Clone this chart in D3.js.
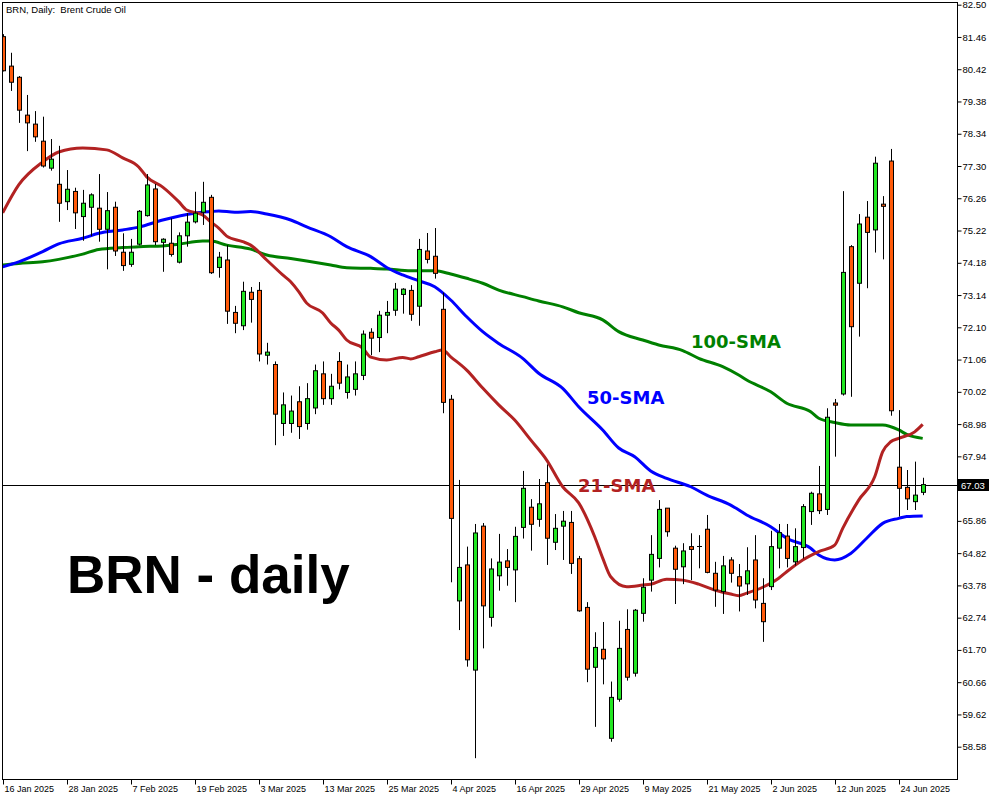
<!DOCTYPE html>
<html><head><meta charset="utf-8">
<script src="https://cdn.jsdelivr.net/npm/d3@7"></script>
<style>html,body{margin:0;padding:0;background:#fff;}svg{display:block;}</style>
</head><body>
<svg id="c" width="1000" height="800"></svg>
<script>
// ---- data ----
const title = "BRN, Daily:  Brent Crude Oil";
const openP = [81.47,80.52,80.16,78.94,78.65,78.10,77.23,76.71,76.15,76.48,75.67,75.97,75.94,75.26,75.97,74.52,74.13,74.78,75.70,76.56,74.84,74.81,74.20,75.05,75.50,75.81,76.29,74.03,74.27,72.58,72.15,73.23,73.29,
 71.20,70.90,69.00,69.00,69.70,69.00,69.50,70.60,69.80,71.00,70.00,70.10,
 70.55,71.94,71.77,72.49,72.65,73.16,73.29,72.78,74.56,74.39,72.68,69.78,63.28,64.44,61.05,65.69,62.75,64.09,64.57,64.28,65.65,66.30,65.91,67.09,65.17,65.69,65.81,64.64,63.07,61.14,61.72,58.85,60.11,62.36,60.95,62.88,
 63.95,64.65,66.27,64.98,64.38,65.03,65.04,65.59,64.17,63.58,64.60,64.06,63.83,64.60,63.20,63.74,64.98,65.37,64.54,65.00,66.16,66.73,66.23,69.66,69.95,74.70,73.52,75.65,75.24,76.07,77.46,67.59,66.94,66.48,66.78];
const highP = [81.55,80.95,80.20,79.59,79.07,78.89,78.17,77.95,77.17,76.60,76.53,76.42,77.04,76.46,76.15,75.13,74.95,75.88,77.04,76.72,74.97,75.61,75.16,75.78,76.47,76.79,76.37,74.53,74.75,72.79,73.57,73.40,73.56,
 71.60,71.00,70.00,69.90,70.20,70.30,70.90,71.00,70.60,71.30,70.90,71.00,
 72.00,72.07,72.63,72.95,73.53,73.36,73.46,74.95,75.14,75.30,73.22,69.92,67.18,65.03,65.76,65.79,64.65,65.44,64.95,65.67,67.47,66.56,67.21,67.68,66.08,66.18,66.18,64.73,63.24,62.27,62.60,60.68,62.64,63.01,63.02,64.01,
 65.40,66.53,66.27,65.06,65.14,65.46,65.40,66.05,64.54,64.73,64.69,64.47,65.01,65.40,64.01,65.54,65.76,65.76,65.62,66.40,66.80,67.63,69.49,69.79,76.49,74.75,75.75,76.17,77.60,76.33,77.85,69.43,67.50,67.77,67.25];
const lowP = [80.35,79.72,78.69,77.78,78.08,77.25,77.15,75.50,75.88,75.27,74.89,75.04,74.86,73.97,74.40,73.92,74.05,74.74,75.67,74.75,73.89,74.38,74.16,74.70,75.45,75.40,73.82,73.70,72.21,71.91,72.01,72.25,71.00,
 70.90,68.30,68.60,68.70,68.50,68.80,69.30,69.60,69.60,70.10,69.80,69.90,
 70.40,71.20,71.30,71.91,72.47,72.54,72.31,72.15,74.16,73.67,69.33,63.88,62.34,61.16,58.21,61.75,62.45,63.61,63.77,63.24,65.29,64.90,65.67,64.44,64.92,64.60,64.15,62.93,60.66,59.22,60.59,58.74,60.03,60.71,60.84,62.61,
 63.58,64.36,65.35,63.18,63.82,63.95,64.33,64.17,63.09,62.86,63.87,62.94,63.47,63.04,61.96,63.63,64.33,64.36,64.42,64.65,65.73,66.08,66.05,67.93,69.90,69.86,71.80,73.36,74.51,74.29,69.25,66.00,66.21,66.21,66.69];
const closeP = [80.37,80.00,79.10,78.69,78.24,77.30,77.52,76.10,76.55,75.79,76.10,76.37,75.26,75.86,74.56,74.09,74.52,75.84,76.69,74.86,74.94,74.45,75.05,75.49,75.78,76.13,73.86,74.36,72.62,72.23,73.26,73.00,71.24,
 71.30,69.30,69.60,69.40,68.90,69.80,70.70,69.80,70.20,70.30,70.50,70.60,
 71.88,71.75,72.49,72.58,73.33,73.33,72.52,74.61,74.29,73.84,69.68,65.94,64.36,61.38,65.47,63.12,64.31,64.53,64.36,65.36,66.91,65.75,66.41,65.30,65.62,65.85,64.49,62.96,61.08,61.78,61.41,60.17,61.75,60.82,62.98,63.72,
 64.78,66.23,65.51,64.30,64.89,64.94,65.04,64.20,63.63,64.41,64.17,63.76,64.25,63.31,62.61,65.03,65.48,64.65,65.03,66.32,66.75,66.19,69.20,69.59,73.87,72.12,75.43,75.16,77.39,76.00,69.41,66.91,66.57,66.69,67.03];

// moving averages: [bar index, value]
const sma21 = [[0,75.79],[2,76.69],[5,77.43],[7,77.75],[10,77.88],[13,77.82],[15,77.56],[17,77.27],[18,76.95],[20,76.62],[22,76.15],[23,75.88],[25,75.72],[26,75.50],[27,75.30],[28,75.04],[30,74.86],[31,74.75],[33,74.27],[35,73.79],[36,73.57],[37,73.25],[38,72.88],[40,72.56],[41,72.24],[42,72.01],[43,71.69],[45,71.43],[46,71.14],[48,71.05],[50,71.13],[51,71.08],[52,71.15],[54,71.31],[55,71.37],[56,71.15],[58,70.72],[60,70.14],[62,69.60],[64,69.11],[66,68.47],[68,67.82],[70,66.96],[72,66.44],[74,65.35],[75,64.66],[76,64.06],[78,63.74],[80,63.79],[81,63.82],[83,63.98],[85,63.95],[87,63.82],[89,63.63],[91,63.50],[92,63.45],[93,63.53],[95,63.72],[97,64.01],[98,64.22],[100,64.60],[102,64.87],[104,65.08],[105,65.62],[107,66.53],[109,67.28],[110,68.09],[111,68.41],[112,68.52],[114,68.73],[115,68.97]];
const sma50 = [[0,74.05],[2,74.21],[5,74.54],[7,74.79],[10,74.97],[12,75.13],[15,75.24],[17,75.33],[20,75.56],[24,75.78],[26,75.83],[27,75.85],[29,75.81],[31,75.83],[33,75.75],[36,75.56],[38,75.34],[41,75.02],[43,74.70],[46,74.38],[48,74.03],[50,73.79],[52,73.60],[54,73.41],[56,72.98],[58,72.44],[60,71.96],[62,71.58],[65,71.10],[67,70.62],[70,70.13],[72,69.54],[75,68.79],[77,68.21],[79,67.93],[81,67.47],[83,67.23],[86,66.96],[88,66.69],[91,66.37],[93,66.05],[96,65.67],[98,65.30],[101,64.98],[102,64.76],[104,64.60],[106,64.81],[108,65.30],[110,65.78],[112,65.94],[113,66.00],[115,66.02]];
const sma100 = [[0,74.11],[2,74.16],[5,74.21],[7,74.29],[10,74.46],[12,74.61],[15,74.67],[17,74.70],[20,74.72],[22,74.78],[25,74.88],[26,74.88],[28,74.75],[31,74.62],[33,74.43],[36,74.32],[38,74.24],[41,74.11],[43,74.02],[46,74.00],[48,73.98],[51,73.92],[54,73.92],[56,73.82],[58,73.68],[60,73.52],[62,73.30],[65,73.09],[67,72.95],[70,72.76],[72,72.57],[75,72.34],[77,71.96],[80,71.69],[82,71.53],[85,71.35],[87,71.10],[90,70.83],[92,70.56],[93,70.40],[96,70.02],[98,69.65],[101,69.38],[102,69.17],[104,69.03],[106,68.95],[108,68.95],[110,68.95],[112,68.79],[113,68.65],[115,68.52]];

const yTicks = [82.50,81.46,80.42,79.38,78.34,77.30,76.26,75.22,74.18,73.14,72.10,71.06,70.02,68.98,67.94,66.90,65.86,64.82,63.78,62.74,61.70,60.66,59.62,58.58];
const xTickIdx = [0,8,16,24,32,40,48,56,64,72,80,88,96,104,112];
const xTickLabels = ["16 Jan 2025","28 Jan 2025","7 Feb 2025","19 Feb 2025","3 Mar 2025","13 Mar 2025","25 Mar 2025","4 Apr 2025","16 Apr 2025","29 Apr 2025","9 May 2025","21 May 2025","2 Jun 2025","12 Jun 2025","24 Jun 2025"];
const lastPrice = 67.03;
const smaLabels = [{t:"100-SMA", s:"sma100"},{t:"50-SMA", s:"sma50"},{t:"21-SMA", s:"sma21"}];

// ---- layout ----
const L = 2, T = 2, R = 957, B = 779;
const svg = d3.select("#c");
const x = d3.scaleLinear().domain([0, 119]).range([2.7, 954.7]);
const y = d3.scaleLinear().domain([58.58, 82.50]).range([746.7, 4.7]);
const px = v => Math.round(x(v));

svg.append("defs").append("clipPath").attr("id","clip")
  .append("rect").attr("x",L+1).attr("y",T+1).attr("width",R-L-1).attr("height",B-T-1);

const plot = svg.append("g").attr("clip-path","url(#clip)");

// title
svg.append("text").attr("x",6).attr("y",13).attr("font-family","Liberation Sans, Arial, sans-serif")
  .attr("font-size","9.5px").attr("fill","#000").style("white-space","pre").text(title);

// big label
svg.append("text").attr("x",67).attr("y",593).attr("font-family","Liberation Sans, Arial, sans-serif")
  .attr("font-weight","bold").attr("font-size","53px").attr("fill","#000").text("BRN - daily");

// current price line
plot.append("line").attr("x1",L).attr("x2",R).attr("y1",Math.round(y(lastPrice))+0.5).attr("y2",Math.round(y(lastPrice))+0.5)
  .attr("stroke","#000").attr("stroke-width",1);

// moving averages
const smaStyle = {sma21:{data:sma21,color:"#b22222"}, sma50:{data:sma50,color:"#0000ff"}, sma100:{data:sma100,color:"#008000"}};
const line = d3.line().x(d=>x(d[0])).y(d=>y(d[1])).curve(d3.curveMonotoneX);
["sma100","sma50","sma21"].forEach(k=>{
  plot.append("path").attr("d",line(smaStyle[k].data)).attr("fill","none")
    .attr("stroke",smaStyle[k].color).attr("stroke-width",3);
});

// candles
const idx = d3.range(closeP.length);
const bull = "#22e622", bear = "#ff5a0a";
const g = plot.append("g");
g.selectAll("line.w").data(idx).join("line").attr("class","w")
  .attr("x1",i=>px(i)+0.5).attr("x2",i=>px(i)+0.5)
  .attr("y1",i=>y(highP[i])).attr("y2",i=>y(lowP[i]))
  .attr("stroke","#000").attr("stroke-width",1);
g.selectAll("rect.b").data(idx.filter(i=>Math.abs(openP[i]-closeP[i])>0.02)).join("rect").attr("class","b")
  .attr("x",i=>px(i)-1.5).attr("width",4)
  .attr("y",i=>y(Math.max(openP[i],closeP[i])))
  .attr("height",i=>Math.max(1,Math.abs(y(openP[i])-y(closeP[i]))))
  .attr("fill",i=>closeP[i]>=openP[i]?bull:bear).attr("stroke","#000").attr("stroke-width",1);
g.selectAll("line.d").data(idx.filter(i=>Math.abs(openP[i]-closeP[i])<=0.02)).join("line").attr("class","d")
  .attr("x1",i=>px(i)-2).attr("x2",i=>px(i)+3)
  .attr("y1",i=>Math.round(y(openP[i]))+0.5).attr("y2",i=>Math.round(y(openP[i]))+0.5)
  .attr("stroke","#000").attr("stroke-width",1);

// SMA labels
const labPos = {sma100:[691,348], sma50:[587,404], sma21:[578,492]};
smaLabels.forEach(l=>{
  svg.append("text").attr("x",labPos[l.s][0]).attr("y",labPos[l.s][1])
    .attr("font-family","DejaVu Sans, Verdana, sans-serif").attr("font-weight","bold").attr("font-size","18px")
    .attr("fill",smaStyle[l.s].color).text(l.t);
});

// frame
svg.append("rect").attr("x",L+0.5).attr("y",T+0.5).attr("width",R-L).attr("height",B-T)
  .attr("fill","none").attr("stroke","#000").attr("stroke-width",1);

// axes (the 66.90 label sits under the last-price tag, so only its tick is drawn)
const yAxis = svg.append("g").attr("transform",`translate(${R+0.5},0)`)
  .call(d3.axisRight(y).tickValues(yTicks).tickFormat(d => Math.abs(d-lastPrice) < 0.3 ? "" : d3.format(".2f")(d)).tickSize(4).tickPadding(1).tickSizeOuter(0));
yAxis.select(".domain").remove();
yAxis.selectAll("text").attr("font-family","Liberation Sans, Arial, sans-serif").attr("font-size","9.5px").attr("fill","#000");
yAxis.selectAll("line").attr("stroke","#000");

const xAxis = svg.append("g").attr("transform",`translate(0,${B+0.5})`)
  .call(d3.axisBottom(x).tickValues(xTickIdx).tickFormat((d,i)=>xTickLabels[i]).tickSize(5).tickPadding(1).tickSizeOuter(0));
xAxis.select(".domain").remove();
xAxis.selectAll(".tick").attr("transform",d=>`translate(${px(d)+0.5},0)`);
xAxis.selectAll("text").attr("text-anchor","start").attr("x",1)
  .attr("font-family","Liberation Sans, Arial, sans-serif").attr("font-size","9px").attr("fill","#000");
xAxis.selectAll("line").attr("stroke","#000");

// last price tag
const ly = Math.round(y(lastPrice));
svg.append("rect").attr("x",958).attr("y",ly-6).attr("width",31).attr("height",12).attr("fill","#000");
svg.append("text").attr("x",961).attr("y",ly+3.5).attr("font-family","Liberation Sans, Arial, sans-serif")
  .attr("font-size","9.5px").attr("fill","#fff").text(d3.format(".2f")(lastPrice));
</script>
</body></html>
